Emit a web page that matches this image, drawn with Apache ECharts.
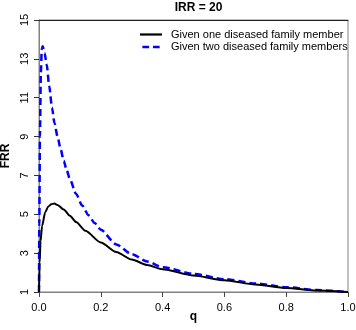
<!DOCTYPE html>
<html lang="en">
<head>
    <meta charset="UTF-8">
    <title>IRR = 20</title>
    <script src="https://cdn.jsdelivr.net/npm/echarts@6/dist/echarts.min.js"></script>
</head>
<body style="margin:0">
    <div id="main" style="width: 356px; height:330px"></div>
    <script>
        var qOne = [0, 0.002, 0.005, 0.01, 0.02, 0.03, 0.04, 0.05, 0.06, 0.08, 0.1, 0.12, 0.15, 0.2, 0.25, 0.3, 0.35, 0.4, 0.5, 0.6, 0.7, 0.8, 0.9, 1.0]
        var frrOne = [1, 2.5, 3.6, 4.4, 5.1, 5.4, 5.52, 5.55, 5.48, 5.25, 4.93, 4.6, 4.15, 3.55, 3.06, 2.67, 2.39, 2.17, 1.85, 1.6, 1.39, 1.21, 1.08, 1.0]

        var qTwo = [0, 0.001, 0.003, 0.006, 0.009, 0.012, 0.018, 0.025, 0.033, 0.042, 0.05, 0.06, 0.07, 0.08, 0.09, 0.1, 0.12, 0.14, 0.16, 0.18, 0.2, 0.25, 0.3, 0.35, 0.4, 0.5, 0.6, 0.7, 0.8, 0.9, 1.0]
        var frrTwo = [1, 4.5, 9, 12.3, 13.5, 13.65, 13.3, 12.7, 11.6, 10.5, 9.7, 9.0, 8.35, 7.75, 7.25, 6.8, 6.05, 5.45, 4.95, 4.55, 4.2, 3.45, 2.95, 2.57, 2.28, 1.93, 1.66, 1.44, 1.25, 1.1, 1.0]

        var seriesNames = ['Given one diseased family member', 'Given two diseased family members']

        function pairs(xs, ys) {
            return xs.map(function (x, i) { return [x, ys[i]] })
        }

        var myEcharts = echarts.init(document.getElementById('main'))
        var font = 'Liberation Sans, Arial, sans-serif'
        var gray = '#808080'

        var option = {
            animation: false,
            textStyle: { fontFamily: font },
            title: {
                text: 'IRR = 20',
                left: 193.5,
                textAlign: 'center',
                top: -3,
                textStyle: { fontSize: 12, fontWeight: 'bold', color: '#000' }
            },
            grid: {
                left: 39, right: 8, top: 20, bottom: 38,
                outerBoundsMode: 'none',
                show: true, borderColor: gray, borderWidth: 1
            },
            legend: {
                // plain line / dashed line keys, like the original
                data: [
                    { name: seriesNames[0], icon: 'path://M0,0h22v2.2h-22z', itemStyle: { color: '#000' } },
                    { name: seriesNames[1], icon: 'path://M0,0h7v2.6h-7z M11,0h7v2.6h-7z', itemStyle: { color: '#0000ff' } }
                ],
                orient: 'vertical',
                left: 135,
                top: 24,
                itemWidth: 22,
                itemHeight: 2.5,
                itemGap: 1.5,
                textStyle: { fontSize: 11, color: '#000', padding: [0, 0, 0, 4] }
            },
            xAxis: [{
                type: 'value',
                min: 0, max: 1, interval: 0.2,
                name: 'q',
                nameLocation: 'middle',
                nameGap: 19,
                nameMoveOverlap: false,
                nameTextStyle: { fontSize: 12, fontWeight: 'bold', color: '#000' },
                axisLine: { lineStyle: { color: gray } },
                axisTick: { length: 5, lineStyle: { color: '#444' } },
                axisLabel: { fontSize: 11, color: '#000', margin: 10,
                    formatter: function (v) { return v.toFixed(1) } },
                splitLine: { show: false }
            }, {
                type: 'value',
                position: 'top',
                min: 0, max: 1,
                axisLine: { show: true, lineStyle: { color: '#222' } },
                axisTick: { show: false },
                axisLabel: { show: false },
                splitLine: { show: false }
            }],
            yAxis: {
                type: 'value',
                min: 1, max: 15, interval: 2,
                name: 'FRR',
                nameLocation: 'middle',
                nameGap: 27,
                nameMoveOverlap: false,
                nameTextStyle: { fontSize: 12, fontWeight: 'bold', color: '#000' },
                axisLine: { show: true, lineStyle: { color: gray } },
                axisTick: { show: true, length: 5, lineStyle: { color: '#333' } },
                axisLabel: { fontSize: 11, color: '#000', rotate: 90, margin: 9 },
                splitLine: { show: false }
            },
            series: [
                {
                    name: seriesNames[0],
                    type: 'line',
                    data: pairs(qOne, frrOne),
                    symbol: 'none',
                    smooth: 0.25,
                    smoothMonotone: 'x',
                    z: 3,
                    lineStyle: { color: '#000', width: 2 },
                    itemStyle: { color: '#000' }
                },
                {
                    name: seriesNames[1],
                    type: 'line',
                    data: pairs(qTwo, frrTwo),
                    symbol: 'none',
                    smooth: 0.25,
                    smoothMonotone: 'x',
                    z: 2,
                    lineStyle: { color: '#0000ff', width: 2.5, type: [7, 4] },
                    itemStyle: { color: '#0000ff' }
                }
            ]
        }

        myEcharts.setOption(option)
    </script>
</body>
</html>
